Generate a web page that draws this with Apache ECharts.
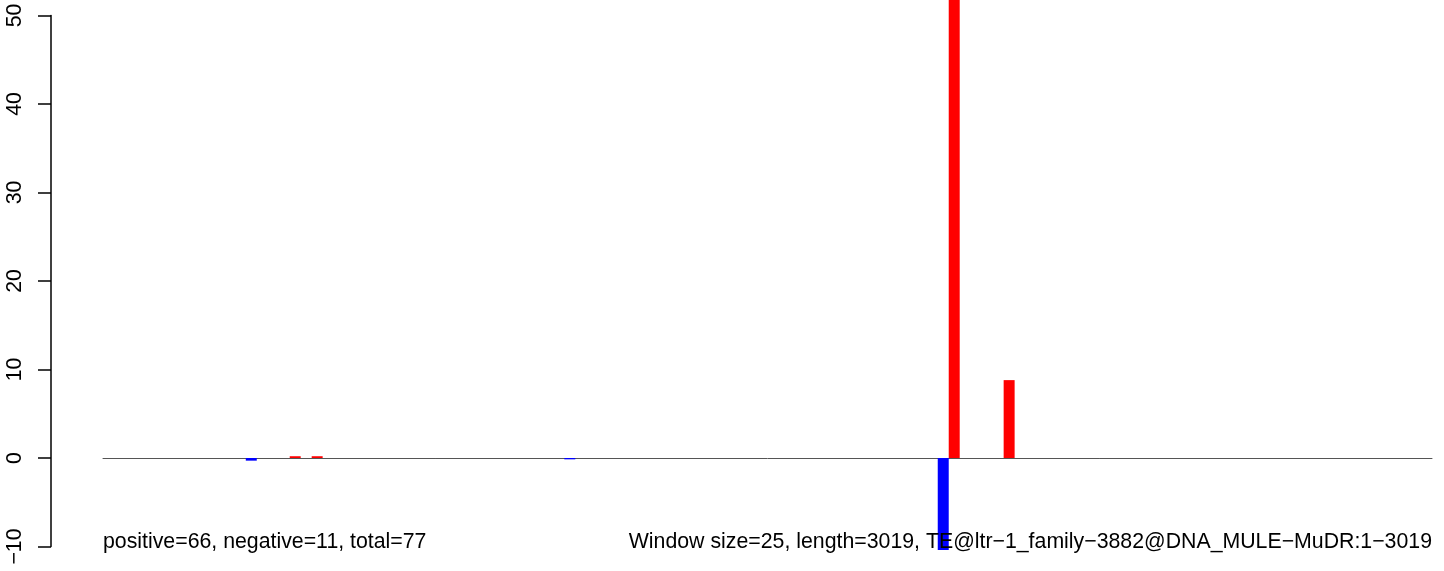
<!DOCTYPE html>
<html>
<head>
<meta charset="utf-8">
<script src="https://cdn.jsdelivr.net/npm/echarts@6/dist/echarts.min.js"></script>
<style>
html,body{margin:0;padding:0;background:#fff;}
#chart{width:1444px;height:571px;}
</style>
</head>
<body>
<div id="chart"></div>
<script>
// ---- data ----
const windowCount = 121;            // 3019 bp / window size 25
const posWindows = [17, 19, 77, 82];
const posValues  = [0.2, 0.2, 57, 8.8];
const negWindows = [13, 42, 76];
const negValues  = [-0.3, -0.15, -10.4];
const yTicks = [-10, 0, 10, 20, 30, 40, 50];
const leftNote  = 'positive=66, negative=11, total=77';
const rightNote = 'Window size=25, length=3019, TE@ltr\u22121_family\u22123882@DNA_MULE\u2212MuDR:1\u22123019';

const categories = [];
for (let i = 0; i < windowCount; i++) categories.push(String(i));
const posData = posWindows.map((w, i) => [w, posValues[i]]);
const negData = negWindows.map((w, i) => [w, negValues[i]]);

const FONT = 'Liberation Sans, Arial, Helvetica, sans-serif';
const chart = echarts.init(document.getElementById('chart'), null, {renderer: 'canvas'});
chart.setOption({
  animation: false,
  backgroundColor: '#ffffff',
  grid: [
    {left: 51, top: 15.5, height: 531, width: 10},
    {left: 103, right: 12, top: 15.5, height: 531}
  ],
  xAxis: [
    {gridIndex: 0, type: 'value', show: false},
    {gridIndex: 1, type: 'category', data: categories, boundaryGap: true, z: 0,
     axisLine: {show: true, onZero: true, lineStyle: {color: '#555555', width: 1}},
     axisTick: {show: false}, axisLabel: {show: false}, splitLine: {show: false}}
  ],
  yAxis: [
    {gridIndex: 0, type: 'value', min: yTicks[0], max: yTicks[yTicks.length - 1], interval: 10,
     axisLine: {show: true, lineStyle: {color: '#000', width: 1.5}},
     axisTick: {show: true, length: 13, lineStyle: {color: '#000', width: 1.5}},
     axisLabel: {show: true, rotate: 90, margin: 25, color: '#000', fontSize: 21.3, fontFamily: FONT,
                 formatter: v => (v < 0 ? '\u2212' + Math.abs(v) : String(v))},
     splitLine: {show: false}},
    {gridIndex: 1, type: 'value', min: yTicks[0], max: yTicks[yTicks.length - 1], show: false, splitLine: {show: false}}
  ],
  series: [
    {type: 'bar', xAxisIndex: 1, yAxisIndex: 1, data: posData, barWidth: '100%', barGap: '-100%',
     clip: false, itemStyle: {color: '#ff0000'}, z: 5},
    {type: 'bar', xAxisIndex: 1, yAxisIndex: 1, data: negData, barWidth: '100%', barGap: '-100%',
     clip: false, itemStyle: {color: '#0000ff'}, z: 5}
  ],
  graphic: [
    {type: 'text', left: 103, top: 532, z: 100,
     style: {text: leftNote, fill: '#000', font: '21.3px ' + FONT}},
    {type: 'text', right: 12, top: 532, z: 100,
     style: {text: rightNote, fill: '#000', font: '21.3px ' + FONT}}
  ]
});
</script>
</body>
</html>
